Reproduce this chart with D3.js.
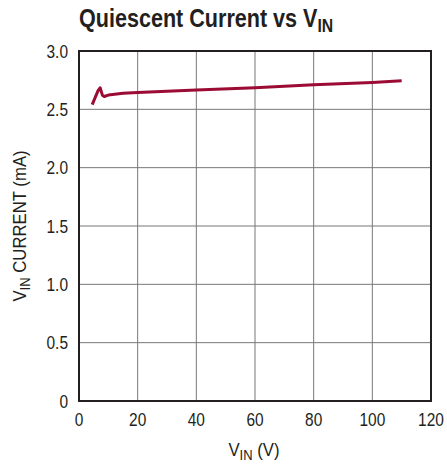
<!DOCTYPE html>
<html>
<head>
<meta charset="utf-8">
<script src="https://cdn.jsdelivr.net/npm/d3@7"></script>
<style>
  body { margin: 0; background: #fff; }
  text { font-family: "Liberation Sans", Arial, sans-serif; fill: #231f20; }
</style>
</head>
<body>
<div id="chart"></div>
<script>
// supply voltage (V) and quiescent current (mA)
var vin = [4.5, 5.5, 6.5, 7.2, 8.0, 8.6, 10, 15, 20, 30, 40, 60, 80, 100, 110];
var current = [2.54, 2.6, 2.66, 2.685, 2.62, 2.61, 2.622, 2.638, 2.645, 2.655, 2.665, 2.685, 2.71, 2.73, 2.745];
var xTicks = [0, 20, 40, 60, 80, 100, 120];
var yTicks = [0, 0.5, 1.0, 1.5, 2.0, 2.5, 3.0];
var yTickLabels = ["0", "0.5", "1.0", "1.5", "2.0", "2.5", "3.0"];

var width = 447, height = 465;
var margin = {top: 51, right: 16, bottom: 64, left: 79};
var plotW = width - margin.left - margin.right;
var plotH = height - margin.top - margin.bottom;
var lineColor = "#9b0b33";
var narrow = 0.86; // squeeze to look like a condensed face

var svg = d3.select("#chart").append("svg")
    .attr("width", width)
    .attr("height", height);

var x = d3.scaleLinear().domain([0, 120]).range([0, plotW]);
var y = d3.scaleLinear().domain([0, 3]).range([plotH, 0]);

var g = svg.append("g").attr("transform", "translate(" + margin.left + "," + margin.top + ")");

// grid
g.selectAll(".vgrid").data(xTicks.slice(1, -1)).enter().append("line")
    .attr("x1", function(d) { return x(d); }).attr("x2", function(d) { return x(d); })
    .attr("y1", 0).attr("y2", plotH)
    .style("stroke", "#777").style("stroke-width", 1);
g.selectAll(".hgrid").data(yTicks.slice(1, -1)).enter().append("line")
    .attr("y1", function(d) { return y(d); }).attr("y2", function(d) { return y(d); })
    .attr("x1", 0).attr("x2", plotW)
    .style("stroke", "#777").style("stroke-width", 1);

// frame
g.append("rect").attr("width", plotW).attr("height", plotH)
    .style("fill", "none").style("stroke", "#231f20").style("stroke-width", 2);

// tick labels
g.selectAll(".xlab").data(xTicks).enter().append("text")
    .attr("transform", function(d) { return "translate(" + x(d) + "," + (plotH + 25) + ") scale(" + narrow + ",1)"; })
    .attr("text-anchor", "middle")
    .style("font-size", "18px")
    .text(function(d) { return d; });
g.selectAll(".ylab").data(yTicks).enter().append("text")
    .attr("transform", function(d) { return "translate(-11," + (y(d) + 6.5) + ") scale(" + narrow + ",1)"; })
    .attr("text-anchor", "end")
    .style("font-size", "18px")
    .text(function(d, i) { return yTickLabels[i]; });

// curve
var line = d3.line()
    .x(function(d) { return x(d[0]); })
    .y(function(d) { return y(d[1]); });
g.append("path")
    .datum(d3.zip(vin, current))
    .attr("d", line)
    .style("fill", "none")
    .style("stroke", lineColor)
    .style("stroke-width", 3)
    .style("stroke-linejoin", "round");

// title
var title = svg.append("text")
    .attr("transform", "translate(79,27) scale(0.83,1)")
    .style("font-size", "26px").style("font-weight", "bold");
title.append("tspan").text("Quiescent Current vs V");
title.append("tspan").attr("dy", 5).style("font-size", "19px").text("IN");

// x label
var xl = svg.append("text")
    .attr("transform", "translate(" + (margin.left + plotW / 2 - 1) + ",456) scale(0.93,1)")
    .attr("text-anchor", "middle")
    .style("font-size", "18px");
xl.append("tspan").text("V");
xl.append("tspan").attr("dy", 4).style("font-size", "14px").text("IN");
xl.append("tspan").attr("dy", -4).text(" (V)");

// y label
var yl = svg.append("text")
    .attr("transform", "translate(26," + (margin.top + plotH / 2) + ") rotate(-90) scale(0.93,1)")
    .attr("text-anchor", "middle")
    .style("font-size", "18px");
yl.append("tspan").text("V");
yl.append("tspan").attr("dy", 4).style("font-size", "14px").text("IN");
yl.append("tspan").attr("dy", -4).text(" CURRENT (mA)");
</script>
</body>
</html>
